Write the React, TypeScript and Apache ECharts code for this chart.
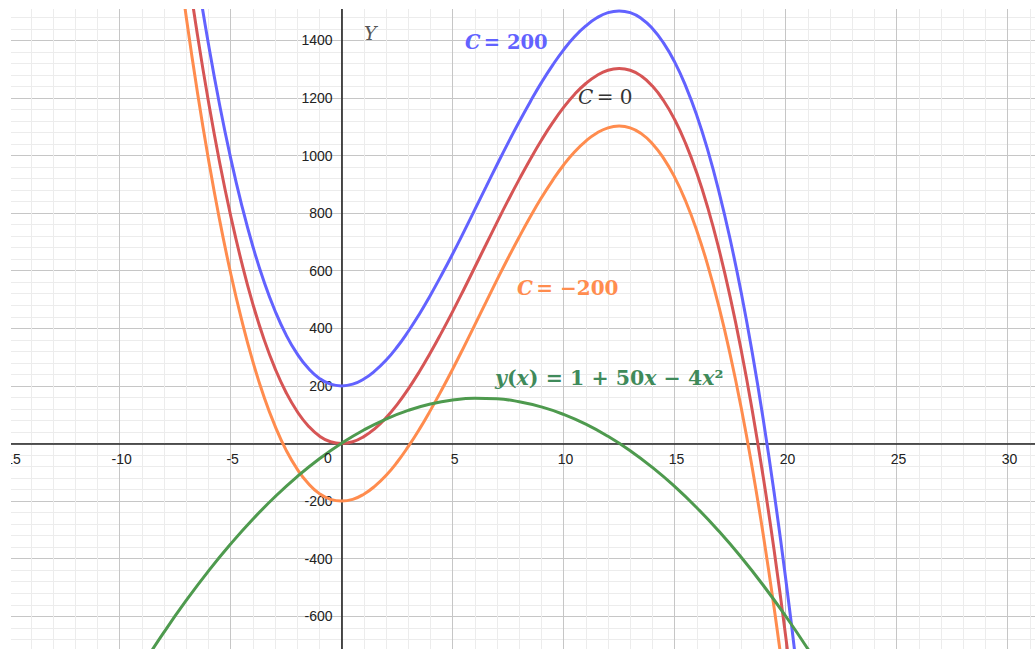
import React, { useEffect, useRef } from "react";
import * as echarts from "echarts";

// x samples for the three cubic solution curves
const cubicX = [-8, -7.5, -7, -6.5, -6, -5.5, -5, -4.5, -4, -3.5, -3, -2.5, -2, -1.5, -1, -0.5, 0, 0.5, 1, 1.5, 2, 2.5, 3, 3.5, 4, 4.5, 5, 5.5, 6, 6.5, 7, 7.5, 8, 8.5, 9, 9.5, 10, 10.5, 11, 11.5, 12, 12.5, 13, 13.5, 14, 14.5, 15, 15.5, 16, 16.5, 17, 17.5, 18, 18.5, 19, 19.5, 20, 20.5, 21];
const curveC200 = [2483, 2169, 1882, 1622, 1388, 1178, 992, 828, 685, 563, 461, 377, 311, 261, 226, 206, 200, 206, 224, 252, 289, 335, 389, 449, 515, 585, 658, 734, 812, 890, 968, 1044, 1117, 1187, 1253, 1313, 1367, 1413, 1450, 1478, 1496, 1502, 1496, 1476, 1441, 1391, 1325, 1241, 1139, 1017, 874, 710, 524, 314, 80, -180, -467, -781, -1123];
const curveC0 = [2283, 1969, 1682, 1422, 1188, 978, 792, 628, 485, 363, 261, 177, 111, 61, 26, 6, 0, 6, 24, 52, 89, 135, 189, 249, 315, 385, 458, 534, 612, 690, 768, 844, 917, 987, 1053, 1113, 1167, 1213, 1250, 1278, 1296, 1302, 1296, 1276, 1241, 1191, 1125, 1041, 939, 817, 674, 510, 324, 114, -120, -380, -667, -981, -1323];
const curveCm200 = [2083, 1769, 1482, 1222, 988, 778, 592, 428, 285, 163, 61, -23, -89, -139, -174, -194, -200, -194, -176, -148, -111, -65, -11, 49, 115, 185, 258, 334, 412, 490, 568, 644, 717, 787, 853, 913, 967, 1013, 1050, 1078, 1096, 1102, 1096, 1076, 1041, 991, 925, 841, 739, 617, 474, 310, 124, -86, -320, -580, -867, -1181, -1523];

// x samples for y(x) = 1 + 50x - 4x^2
const parabX = [-9, -8, -7, -6, -5, -4, -3, -2, -1, 0, 1, 2, 3, 4, 5, 6, 7, 8, 9, 10, 11, 12, 13, 14, 15, 16, 17, 18, 19, 20, 21, 22];
const parabY = [-773, -655, -545, -443, -349, -263, -185, -115, -53, 1, 47, 85, 115, 137, 151, 157, 155, 145, 127, 101, 67, 25, -25, -83, -149, -223, -305, -395, -493, -599, -713, -835];

const xMin = -20, xMax = 35, xStep = 5;
const yMin = -800, yMax = 1600, yStep = 200;

const BLUE = "#6262ff";
const RED = "#d65555";
const ORANGE = "#ff8c4e";
const GREEN = "#4e9a4e";
const LABEL_GREEN = "#3f8a5a";

// inner chart canvas sits at (OX, OY) relative to the page; the visible window clips it
const OX = -150, OY = -60;
const WIN_L = 11, WIN_T = 9;

const pairs = (xs: number[], ys: number[]) => xs.map((x, i) => [x, ys[i]]);

export default function App() {
  const ref = useRef<HTMLDivElement>(null);
  useEffect(() => {
    if (!ref.current) return;
    const chart = echarts.init(ref.current, undefined, { renderer: "svg" });
    const tickFont = { fontFamily: "Liberation Sans", fontSize: 14, color: "#222" };
    const serif = "DejaVu Serif";
    const gx = (x: number) => x - OX;
    const gy = (y: number) => y - OY;
    const gridLeft = 47.6, gridTop = 42.7, gridW = 1221, gridH = 691.2;
    const zeroX = gridLeft + gridW * ((0 - xMin) / (xMax - xMin));
    const zeroY = gridTop + gridH * ((yMax - 0) / (yMax - yMin));
    const line = (name: string, data: number[][], color: string) => ({
      type: "line",
      name,
      data,
      smooth: true,
      showSymbol: false,
      symbol: "none",
      lineStyle: { color, width: 3 },
      z: 3,
    });
    chart.setOption({
      animation: false,
      backgroundColor: "#fff",
      grid: { left: gridLeft, top: gridTop, width: gridW, height: gridH, containLabel: false, outerBoundsMode: "none" },
      xAxis: {
        type: "value",
        min: xMin,
        max: xMax,
        interval: xStep,
        offset: -(gridTop + gridH - zeroY),
        axisLine: { onZero: false, lineStyle: { color: "#222", width: 1.6 } },
        axisTick: { show: false },
        axisLabel: {
          ...tickFont,
          margin: 8,
          padding: [0, 0, 0, 4],
          showMinLabel: false,
          showMaxLabel: false,
          formatter: (v: number) => (v === 0 ? "" : String(v)),
        },
        splitLine: { show: true, lineStyle: { color: "#c6c6c6", width: 1 } },
        minorTick: { show: false, splitNumber: 5 },
        minorSplitLine: { show: true, lineStyle: { color: "#ececec", width: 1 } },
      },
      yAxis: {
        type: "value",
        min: yMin,
        max: yMax,
        interval: yStep,
        offset: -(zeroX - gridLeft),
        axisLine: { onZero: false, lineStyle: { color: "#222", width: 1.6 } },
        axisTick: { show: false },
        axisLabel: {
          ...tickFont,
          margin: 9,
          showMinLabel: false,
          showMaxLabel: false,
          formatter: (v: number) => (v === 0 ? "" : String(v)),
        },
        splitLine: { show: true, lineStyle: { color: "#c6c6c6", width: 1 } },
        minorTick: { show: false, splitNumber: 5 },
        minorSplitLine: { show: true, lineStyle: { color: "#ececec", width: 1 } },
      },
      series: [
        line("C = 200", pairs(cubicX, curveC200), BLUE),
        line("C = 0", pairs(cubicX, curveC0), RED),
        line("C = -200", pairs(cubicX, curveCm200), ORANGE),
        line("y(x)", pairs(parabX, parabY), GREEN),
      ],
      graphic: [
        {
          type: "text", x: gx(328), y: gy(458), z: 10,
          style: { text: "0", font: "14px Liberation Sans", fill: "#222", align: "center", verticalAlign: "middle" },
        },
        {
          type: "text", x: gx(364), y: gy(33), z: 10,
          style: { text: "Y", font: `italic 19px ${serif}`, fill: "#555", align: "left", verticalAlign: "middle" },
        },
        {
          type: "text", x: gx(465), y: gy(42), z: 10,
          style: {
            text: "{i|C} {n|= 200}",
            align: "left", verticalAlign: "middle",
            rich: {
              i: { font: `italic bold 19.5px ${serif}`, fill: BLUE },
              n: { font: `bold 19.5px ${serif}`, fill: BLUE },
            },
          },
        },
        {
          type: "text", x: gx(578), y: gy(97), z: 10,
          style: {
            text: "{i|C} {n|= 0}",
            align: "left", verticalAlign: "middle",
            rich: {
              i: { font: `italic 20px ${serif}`, fill: "#333" },
              n: { font: `20px ${serif}`, fill: "#333" },
            },
          },
        },
        {
          type: "text", x: gx(517), y: gy(288), z: 10,
          style: {
            text: "{i|C} {n|= −200}",
            align: "left", verticalAlign: "middle",
            rich: {
              i: { font: `italic bold 20px ${serif}`, fill: ORANGE },
              n: { font: `bold 20px ${serif}`, fill: ORANGE },
            },
          },
        },
        {
          type: "text", x: gx(495), y: gy(378), z: 10,
          style: {
            text: "{i|y}{n|(}{i|x}{n|) = 1 + 50}{i|x}{n| − 4}{i|x}{n|²}",
            align: "left", verticalAlign: "middle",
            rich: {
              i: { font: `italic bold 20.5px ${serif}`, fill: LABEL_GREEN },
              n: { font: `bold 20.5px ${serif}`, fill: LABEL_GREEN },
            },
          },
        },
      ],
    });
    return () => chart.dispose();
  }, []);
  return (
    <div
      style={{
        position: "absolute",
        left: WIN_L,
        top: WIN_T,
        width: 1035 - WIN_L,
        height: 649 - WIN_T,
        overflow: "hidden",
      }}
    >
      <div
        ref={ref}
        style={{ position: "absolute", left: OX - WIN_L, top: OY - WIN_T, width: 1320, height: 790 }}
      />
    </div>
  );
}
